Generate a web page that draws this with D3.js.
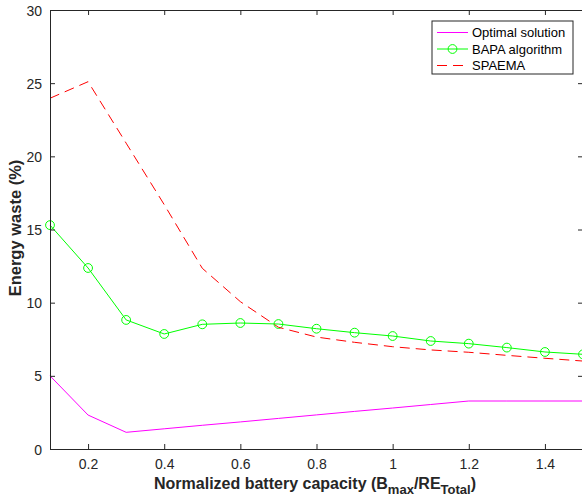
<!DOCTYPE html>
<html>
<head>
<meta charset="utf-8">
<script src="https://d3js.org/d3.v7.min.js"></script>
<style>
  body { margin: 0; background: #fff; }
  svg { display: block; font-family: 'Liberation Sans', Arial, sans-serif; }
</style>
</head>
<body>
<div id="chart"></div>
<script>
const capacity = [0.1, 0.2, 0.3, 0.4, 0.5, 0.6, 0.7, 0.8, 0.9, 1.0, 1.1, 1.2, 1.3, 1.4, 1.5]
const optimal = [5.0, 2.32, 1.14, 1.38, 1.62, 1.85, 2.09, 2.33, 2.57, 2.8, 3.04, 3.28, 3.28, 3.28, 3.28]
const bapa = [15.3, 12.37, 8.82, 7.86, 8.52, 8.61, 8.54, 8.22, 7.95, 7.72, 7.38, 7.2, 6.93, 6.63, 6.47]
const spaema = [23.97, 25.1, 20.9, 16.7, 12.35, 10.07, 8.32, 7.65, 7.29, 6.99, 6.77, 6.61, 6.4, 6.2, 6.01]
const xTicks = [0.2, 0.4, 0.6, 0.8, 1, 1.2, 1.4]
const yTicks = [0, 5, 10, 15, 20, 25, 30]
const seriesNames = ['Optimal solution', 'BAPA algorithm', 'SPAEMA']

const W = 582, H = 502
const m = { left: 50, right: 583, top: 10, bottom: 449 }
const axisColor = '#262626'

const svg = d3.select('#chart').append('svg')
    .attr('width', W)
    .attr('height', H)

const x = d3.scaleLinear().domain([0.1, 1.5]).range([m.left, m.right])
const y = d3.scaleLinear().domain([0, 30]).range([m.bottom, m.top])

const series = [
    { name: seriesNames[0], values: optimal, color: '#ff00ff', dash: null, marker: false },
    { name: seriesNames[1], values: bapa, color: '#00ff00', dash: null, marker: true },
    { name: seriesNames[2], values: spaema, color: '#ff0000', dash: '10,6', marker: false }
]

const line = d3.line()
    .x((d, i) => x(capacity[i]))
    .y(d => y(d))

const plot = svg.append('g')

series.forEach(s => {
    plot.append('path')
        .datum(s.values)
        .attr('d', line)
        .attr('fill', 'none')
        .attr('stroke', s.color)
        .attr('stroke-width', 1)
        .attr('stroke-dasharray', s.dash)
    if (s.marker) {
        plot.selectAll(null)
            .data(s.values)
            .enter()
            .append('circle')
            .attr('cx', (d, i) => x(capacity[i]))
            .attr('cy', d => y(d))
            .attr('r', 4.4)
            .attr('fill', 'none')
            .attr('stroke', s.color)
            .attr('stroke-width', 1)
    }
})

// axes, matlab style box with inward ticks (right edge falls just off the page)
const bottomAxis = svg.append('g')
    .attr('transform', `translate(0,${m.bottom})`)
    .call(d3.axisBottom(x).tickValues(xTicks).tickSizeInner(-5).tickSizeOuter(0).tickPadding(10).tickFormat(d3.format('~g')))
const topAxis = svg.append('g')
    .attr('transform', `translate(0,${m.top})`)
    .call(d3.axisTop(x).tickValues(xTicks).tickSizeInner(-5).tickSizeOuter(0).tickFormat(''))
const leftAxis = svg.append('g')
    .attr('transform', `translate(${m.left},0)`)
    .call(d3.axisLeft(y).tickValues(yTicks).tickSizeInner(-5).tickSizeOuter(0).tickPadding(8))
const rightAxis = svg.append('g')
    .attr('transform', `translate(${m.right},0)`)
    .call(d3.axisRight(y).tickValues(yTicks).tickSizeInner(-5).tickSizeOuter(0).tickFormat(''))

;[bottomAxis, topAxis, leftAxis, rightAxis].forEach(a => {
    a.select('.domain').attr('stroke', axisColor)
    a.selectAll('.tick line').attr('stroke', axisColor)
    a.selectAll('.tick text')
        .attr('fill', axisColor)
        .style('font-size', '14px')
        .style('font-family', "'Liberation Sans', Arial, sans-serif")
})
leftAxis.selectAll('.tick text').attr('dy', '0.36em')

// axis labels
const xlab = svg.append('text')
    .attr('x', 315)
    .attr('y', 489)
    .attr('text-anchor', 'middle')
    .attr('fill', axisColor)
    .style('font-size', '16px')
    .style('font-weight', 'bold')
xlab.append('tspan').text('Normalized battery capacity (B')
xlab.append('tspan').attr('dy', 5).style('font-size', '13px').text('max')
xlab.append('tspan').attr('dy', -5).text('/RE')
xlab.append('tspan').attr('dy', 5).style('font-size', '13px').text('Total')
xlab.append('tspan').attr('dy', -5).text(')')

svg.append('text')
    .attr('transform', 'translate(21,228) rotate(-90)')
    .attr('text-anchor', 'middle')
    .attr('fill', axisColor)
    .style('font-size', '16.5px')
    .style('font-weight', 'bold')
    .text('Energy waste (%)')

// legend
const legend = svg.append('g')
    .attr('transform', 'translate(432,21)')

legend.append('rect')
    .attr('width', 141)
    .attr('height', 53)
    .attr('fill', '#fff')
    .attr('stroke', axisColor)
    .attr('stroke-width', 1)

series.forEach((s, i) => {
    const ly = 11.5 + i * 16.5
    legend.append('line')
        .attr('x1', 5).attr('x2', 36)
        .attr('y1', ly).attr('y2', ly)
        .attr('stroke', s.color)
        .attr('stroke-width', 1)
        .attr('stroke-dasharray', s.dash)
    if (s.marker) {
        legend.append('circle')
            .attr('cx', 20.5).attr('cy', ly)
            .attr('r', 4.4)
            .attr('fill', 'none')
            .attr('stroke', s.color)
    }
    legend.append('text')
        .attr('x', 40)
        .attr('y', ly)
        .attr('dy', '0.36em')
        .attr('fill', '#000')
        .style('font-size', '13px')
        .text(s.name)
})
</script>
</body>
</html>
